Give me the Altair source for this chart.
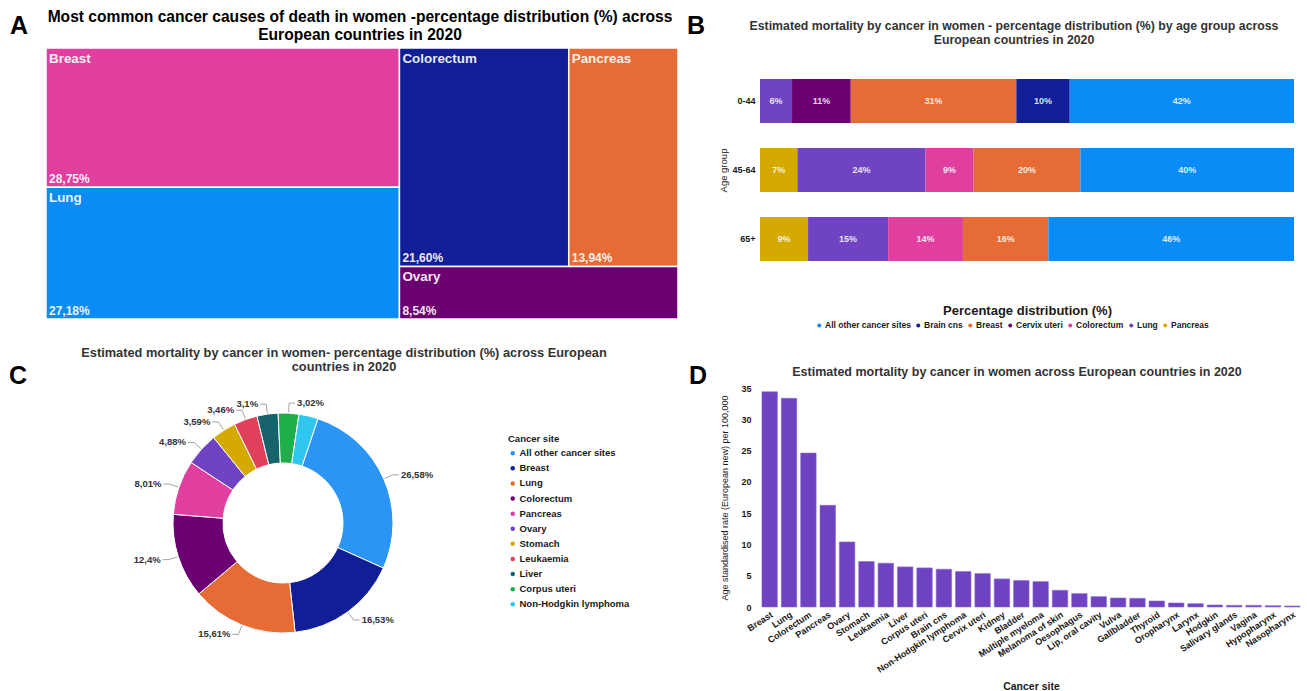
import math

import altair as alt
import pandas as pd

FONT = "Liberation Sans, Arial, sans-serif"
INK = "#1a1a1a"
TITLE_INK = "#333333"

# ---------------- A: leading causes of cancer death (treemap)
tm_sites = ["Breast", "Lung", "Colorectum", "Pancreas", "Ovary"]
tm_share = [28.75, 27.18, 21.60, 13.94, 8.54]
tm_colors = ["#E03FA0", "#0A8BF5", "#111E96", "#E66B34", "#6B0072"]

# ---------------- B: distribution by age group (stacked bars)
age_groups = ["0-44", "45-64", "65+"]
age_sites = [
    ["Lung", "Cervix uteri", "Breast", "Brain cns", "All other cancer sites"],
    ["Pancreas", "Lung", "Colorectum", "Breast", "All other cancer sites"],
    ["Pancreas", "Lung", "Colorectum", "Breast", "All other cancer sites"],
]
age_share = [
    [6, 11, 31, 10, 42],
    [7, 24, 9, 20, 40],
    [9, 15, 14, 16, 46],
]
age_legend = ["All other cancer sites", "Brain cns", "Breast", "Cervix uteri",
              "Colorectum", "Lung", "Pancreas"]
age_colors = ["#0A8BF5", "#111E96", "#E66B34", "#6B0072", "#E03FA0", "#7043C2", "#D4AA00"]

# ---------------- C: distribution by cancer site (donut)
donut_sites = ["All other cancer sites", "Breast", "Lung", "Colorectum", "Pancreas",
               "Ovary", "Stomach", "Leukaemia", "Liver", "Corpus uteri",
               "Non-Hodgkin lymphoma"]
donut_share = [26.58, 16.53, 15.61, 12.4, 8.01, 4.88, 3.59, 3.46, 3.1, 3.02, 2.82]
donut_labelled = [True] * 10 + [False]
donut_colors = ["#2B95F6", "#111E96", "#E66B34", "#6B0072", "#E03FA0", "#7043C2",
                "#D4AA00", "#E0405A", "#17636C", "#1FAF4A", "#2FC6F0"]
donut_start_deg = 18.5

# ---------------- D: age standardised mortality rate by site
rate_sites = ["Breast", "Lung", "Colorectum", "Pancreas", "Ovary", "Stomach",
              "Leukaemia", "Liver", "Corpus uteri", "Brain cns",
              "Non-Hodgkin lymphoma", "Cervix uteri", "Kidney", "Bladder",
              "Multiple myeloma", "Melanoma of skin", "Oesophagus",
              "Lip, oral cavity", "Vulva", "Gallbladder", "Thyroid", "Oropharynx",
              "Larynx", "Hodgkin", "Salivary glands", "Vagina", "Hypopharynx",
              "Nasopharynx"]
rate_values = [34.4, 33.35, 24.6, 16.25, 10.4, 7.27, 7.0, 6.41, 6.25, 6.04, 5.67,
               5.34, 4.49, 4.22, 4.06, 2.67, 2.14, 1.66, 1.44, 1.39, 0.96, 0.64,
               0.53, 0.32, 0.27, 0.27, 0.21, 0.16]


def pct(v, decimals=None):
    s = f"{v:.{decimals}f}" if decimals is not None else f"{v:g}"
    return s.replace(".", ",") + "%"


def letter(ch, x, y):
    """Panel letter, placed relative to the panel's plot area."""
    return alt.Chart(pd.DataFrame({"t": [ch]})).mark_text(
        align="left", baseline="top", font=FONT, fontSize=25,
        fontWeight="bold", color="black",
    ).encode(text="t:N", x=alt.value(x), y=alt.value(y))


def heading(lines, x, y, size, line_height, color):
    """Centred (possibly two-line) panel heading."""
    return alt.Chart(pd.DataFrame({"t": ["\n".join(lines)]})).mark_text(
        align="center", baseline="top", lineBreak="\n", font=FONT,
        fontSize=size, fontWeight="bold", lineHeight=line_height, color=color,
    ).encode(text="t:N", x=alt.value(x), y=alt.value(y))


# ---------------- A
def treemap_cells(vals):
    b, l, c, p, o = vals
    tot = sum(vals)
    x_split = (b + l) / tot
    y_left = b / (b + l)
    y_right = (c + p) / (c + p + o)
    x_right = x_split + (1 - x_split) * c / (c + p)
    return [(0, x_split, 0, y_left), (0, x_split, y_left, 1),
            (x_split, x_right, 0, y_right), (x_right, 1, 0, y_right),
            (x_split, 1, y_right, 1)]


A_W, A_H = 632, 271
cells = treemap_cells(tm_share)
tm_df = pd.DataFrame({
    "site": tm_sites,
    "share": tm_share,
    "label": [pct(v, 2) for v in tm_share],
    "x0": [c[0] for c in cells], "x1": [c[1] for c in cells],
    "y0": [c[2] for c in cells], "y1": [c[3] for c in cells],
})
tm_x = alt.X("x0:Q", scale=alt.Scale(domain=[0, 1], nice=False, zero=False), axis=None)
tm_y = alt.Y("y0:Q", scale=alt.Scale(domain=[0, 1], nice=False, zero=False, reverse=True),
             axis=None)
tm_rects = alt.Chart(tm_df).mark_rect(stroke="white", strokeWidth=1.5).encode(
    x=tm_x, x2="x1:Q", y=tm_y, y2="y1:Q",
    color=alt.Color("site:N", scale=alt.Scale(domain=tm_sites, range=tm_colors),
                    legend=None),
)
tm_names = alt.Chart(tm_df).mark_text(
    align="left", baseline="top", dx=3, dy=4, font=FONT, fontSize=13.4,
    fontWeight="bold", color="white", opacity=0.9,
).encode(x="x0:Q", y="y0:Q", text="site:N")
tm_values = alt.Chart(tm_df).mark_text(
    align="left", baseline="bottom", dx=3, dy=-1, font=FONT, fontSize=12,
    fontWeight="bold", color="white", opacity=0.9,
).encode(x="x0:Q", y="y1:Q", text="label:N")

panel_a = alt.layer(
    tm_rects, tm_names, tm_values,
    heading(["Most common cancer causes of death in women -percentage distribution (%) across",
             "European countries in 2020"], A_W / 2 - 2, -38, 15.6, 18, "black"),
    letter("A", -36, -34),
).properties(width=A_W, height=A_H)

# ---------------- B
B_W, B_H = 534, 244
rows = []
for g, sites, shares in zip(age_groups, age_sites, age_share):
    start = 0
    for s, v in zip(sites, shares):
        rows.append({"age": g, "site": s, "share": v, "start": start,
                     "end": start + v, "mid": start + v / 2, "label": f"{v}%"})
        start += v
age_df = pd.DataFrame(rows)

b_base = alt.Chart(age_df).encode(
    y=alt.Y("age:N", sort=age_groups,
            scale=alt.Scale(paddingInner=0.362, paddingOuter=0.45),
            axis=alt.Axis(title="Age group", ticks=False, domain=False,
                          labelFont=FONT, labelFontSize=9, labelFontWeight="bold",
                          labelColor=INK, labelPadding=5, titleFont=FONT,
                          titleFontSize=9.5, titleFontWeight="normal",
                          titleColor=INK, titlePadding=3)),
)
b_bars = b_base.mark_bar().encode(
    x=alt.X("start:Q", scale=alt.Scale(domain=[0, 100], nice=False, zero=False),
            axis=alt.Axis(title="Percentage distribution (%)", labels=False,
                          ticks=False, domain=False, grid=False, titleFont=FONT,
                          titleFontSize=13, titleFontWeight="bold",
                          titleColor=INK, titlePadding=12)),
    x2="end:Q",
    color=alt.Color("site:N", scale=alt.Scale(domain=age_legend, range=age_colors),
                    legend=alt.Legend(orient="none", legendX=55, legendY=273,
                                      direction="horizontal", title=None,
                                      symbolType="circle", symbolSize=16,
                                      symbolStrokeWidth=0, labelFont=FONT,
                                      labelFontSize=8.5, labelFontWeight="bold",
                                      labelColor=INK, columnPadding=3,
                                      labelOffset=1.5)),
)
b_text = b_base.mark_text(font=FONT, fontSize=9, fontWeight="bold",
                          color="white", opacity=0.85).encode(
    x="mid:Q", text="label:N")

panel_b = alt.layer(
    b_bars, b_text,
    heading(["Estimated mortality by cancer in women - percentage distribution (%) by age group across",
             "European countries in 2020"], 254, -28, 12.3, 14, TITLE_INK),
    letter("B", -73, -34),
).properties(width=B_W, height=B_H)

# ---------------- C
C_W, C_H = 474, 270
R_IN, R_OUT = 60, 110
t0 = math.radians(donut_start_deg)
total = sum(donut_share)
donut_df = pd.DataFrame({"site": donut_sites, "share": donut_share,
                         "idx": list(range(len(donut_sites)))})

label_rows, line_rows = [], []
acc = 0.0
for site, v, show in zip(donut_sites, donut_share, donut_labelled):
    mid = t0 + 2 * math.pi * (acc + v / 2) / total
    acc += v
    if not show:
        continue
    side = 1 if math.sin(mid) >= 0 else -1
    x1, y1 = (R_OUT + 1) * math.sin(mid), (R_OUT + 1) * math.cos(mid)
    x2, y2 = (R_OUT + 10) * math.sin(mid), (R_OUT + 10) * math.cos(mid)
    x3 = x2 + side * 6
    for k, (px, py) in enumerate([(x1, y1), (x2, y2), (x3, y2)]):
        line_rows.append({"site": site, "k": k, "px": px, "py": py})
    label_rows.append({"site": site, "label": pct(v), "px": x3 + side * 2, "py": y2,
                       "side": "right" if side > 0 else "left"})
label_df = pd.DataFrame(label_rows)
line_df = pd.DataFrame(line_rows)

cx = alt.Scale(domain=[-C_W / 2, C_W / 2], nice=False, zero=False)
cy = alt.Scale(domain=[-C_H / 2, C_H / 2], nice=False, zero=False)

arcs = alt.Chart(donut_df).mark_arc(innerRadius=R_IN, outerRadius=R_OUT,
                                    stroke="white", strokeWidth=1).encode(
    theta=alt.Theta("share:Q", stack=True,
                    scale=alt.Scale(range=[t0, t0 + 2 * math.pi])),
    order=alt.Order("idx:Q"),
    color=alt.Color("site:N", scale=alt.Scale(domain=donut_sites, range=donut_colors),
                    legend=alt.Legend(orient="none", legendX=462, legendY=46,
                                      title="Cancer site", titleFont=FONT,
                                      titleFontSize=9.5, titleFontWeight="bold",
                                      titleColor=INK, titlePadding=5,
                                      labelFont=FONT, labelFontSize=9.5,
                                      labelFontWeight="bold", labelColor=INK,
                                      symbolType="circle", symbolSize=20,
                                      symbolStrokeWidth=0, rowPadding=4.1,
                                      labelOffset=2)),
)
leaders = alt.Chart(line_df).mark_line(color="#9a9a9a", strokeWidth=0.9).encode(
    x=alt.X("px:Q", scale=cx, axis=None),
    y=alt.Y("py:Q", scale=cy, axis=None),
    detail="site:N", order="k:Q",
)
labels_r = alt.Chart(label_df).transform_filter(alt.datum.side == "right").mark_text(
    align="left", baseline="middle", font=FONT, fontSize=9.5, fontWeight="bold",
    color="#333333",
).encode(x=alt.X("px:Q", scale=cx, axis=None), y=alt.Y("py:Q", scale=cy, axis=None),
         text="label:N")
labels_l = alt.Chart(label_df).transform_filter(alt.datum.side == "left").mark_text(
    align="right", baseline="middle", font=FONT, fontSize=9.5, fontWeight="bold",
    color="#333333",
).encode(x=alt.X("px:Q", scale=cx, axis=None), y=alt.Y("py:Q", scale=cy, axis=None),
         text="label:N")

panel_c = alt.layer(
    arcs, leaders, labels_r, labels_l,
    heading(["Estimated mortality by cancer in women- percentage distribution (%) across European",
             "countries in 2020"], 298, -41, 12.8, 14, TITLE_INK),
    letter("C", -37, -24),
).properties(width=C_W, height=C_H)

# ---------------- D
D_W, D_H = 542, 219
rate_df = pd.DataFrame({"site": rate_sites, "rate": rate_values})
d_bars = alt.Chart(rate_df).mark_bar(color="#6E42C1", stroke="#8f6fd6",
                                     strokeWidth=0.6).encode(
    x=alt.X("site:N", sort=rate_sites,
            scale=alt.Scale(paddingInner=0.2, paddingOuter=0.1),
            axis=alt.Axis(title="Cancer site", labelAngle=-33, labelAlign="right",
                          labelBaseline="top", labelFont=FONT, labelFontSize=9,
                          labelFontWeight="bold", labelColor=INK, labelPadding=3,
                          ticks=False, domain=False, titleFont=FONT,
                          titleFontSize=10.5, titleFontWeight="bold",
                          titleColor=INK, titlePadding=7)),
    y=alt.Y("rate:Q", scale=alt.Scale(domain=[0, 35], nice=False),
            axis=alt.Axis(values=[0, 5, 10, 15, 20, 25, 30, 35],
                          title="Age standardised rate (European new) per 100,000",
                          grid=False, domain=False, ticks=False, labelFont=FONT,
                          labelFontSize=9, labelFontWeight="bold", labelColor=INK,
                          labelPadding=9, titleFont=FONT, titleFontSize=9,
                          titleFontWeight="normal", titleColor=INK,
                          titlePadding=11)),
)
panel_d = alt.layer(
    d_bars,
    heading(["Estimated mortality by cancer in women across European countries in 2020"],
            257, -22, 12.5, 14, TITLE_INK),
    letter("D", -71, -24),
).properties(width=D_W, height=D_H)

chart = alt.concat(
    panel_a, panel_b, panel_c, panel_d,
    columns=2, bounds="flush", spacing={"row": 69, "column": 82},
).resolve_scale(
    x="independent", y="independent", color="independent"
).properties(
    padding={"left": 8, "top": 9, "right": 0, "bottom": 0},
    background="white",
).configure(font=FONT).configure_view(stroke="transparent")

chart.save("out.html", embed_options={"renderer": "svg", "actions": False})
